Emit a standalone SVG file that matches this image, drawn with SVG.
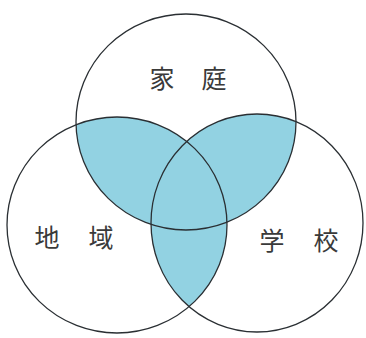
<svg xmlns="http://www.w3.org/2000/svg" width="366" height="338" viewBox="0 0 366 338">
<style>
.ring{fill:none;stroke:#2a2f33;stroke-width:1.3}
.lap{fill:#92d2e2}
.lbl{font-family:"Noto Sans CJK JP","Noto Sans CJK SC",sans-serif;font-size:25px;fill:#3a3a3a;text-anchor:middle}
</style>
<defs>
<clipPath id="cTop"><ellipse cx="186" cy="122" rx="110" ry="108"/></clipPath>
<clipPath id="cLeft"><ellipse cx="117" cy="225" rx="110" ry="108"/></clipPath>
<clipPath id="cRight"><ellipse cx="257" cy="223" rx="106" ry="109"/></clipPath>
</defs>
<rect width="366" height="338" fill="#ffffff"/>
<g id="overlaps">
<ellipse class="lap" cx="117" cy="225" rx="110" ry="108" clip-path="url(#cTop)"/>
<ellipse class="lap" cx="257" cy="223" rx="106" ry="109" clip-path="url(#cTop)"/>
<ellipse class="lap" cx="257" cy="223" rx="106" ry="109" clip-path="url(#cLeft)"/>
</g>
<g id="family">
<ellipse class="ring" cx="186" cy="122" rx="110" ry="108"/>
<text class="lbl" x="162 214" y="88">家庭</text>
</g>
<g id="community">
<ellipse class="ring" cx="117" cy="225" rx="110" ry="108"/>
<text class="lbl" x="47 101" y="247">地域</text>
</g>
<g id="school">
<ellipse class="ring" cx="257" cy="223" rx="106" ry="109"/>
<text class="lbl" x="272 326" y="250">学校</text>
</g>
<g id="connectors"></g>
</svg>
